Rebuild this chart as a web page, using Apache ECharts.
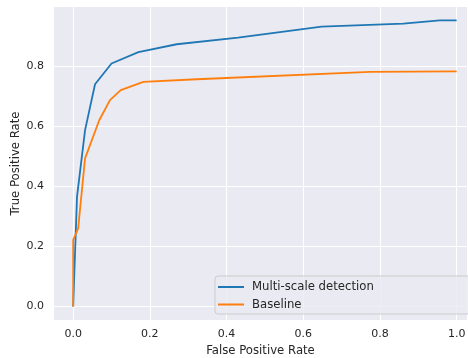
<!DOCTYPE html>
<html>
<head>
<meta charset="utf-8">
<script src="https://cdn.jsdelivr.net/npm/echarts@6/dist/echarts.min.js"></script>
<style>html,body{margin:0;padding:0;background:#fff;}#c{width:468px;height:358px;}</style>
</head>
<body>
<div id="c"></div>
<script>
const seriesNames = ['Multi-scale detection', 'Baseline'];
const fprMulti = [0, 0.01, 0.031, 0.057, 0.1, 0.17, 0.27, 0.43, 0.648, 0.861, 0.956, 1.0];
const tprMulti = [0, 0.365, 0.587, 0.74, 0.809, 0.847, 0.873, 0.895, 0.932, 0.9415, 0.9525, 0.9525];
const fprBase = [0, 0, 0.013, 0.031, 0.068, 0.096, 0.124, 0.183, 0.322, 0.774, 1.0];
const tprBase = [0, 0.222, 0.26, 0.493, 0.62, 0.687, 0.72, 0.7475, 0.7565, 0.781, 0.783];
const xTickValues = [0, 0.2, 0.4, 0.6, 0.8, 1.0];
const yTickValues = [0, 0.2, 0.4, 0.6, 0.8];

const pairs = (xs, ys) => xs.map((x, i) => [x, ys[i]]);
const font = 'DejaVu Sans';
const txt = '#262626';

const chart = echarts.init(document.getElementById('c'), null, {renderer: 'canvas'});
chart.setOption({
  animation: false,
  backgroundColor: '#ffffff',
  textStyle: {fontFamily: font},
  grid: {left: 54, right: 1, top: 7, bottom: 38, show: true, backgroundColor: '#EAEAF2', borderWidth: 0, containLabel: false, outerBoundsMode: 'none'},
  xAxis: {
    type: 'value', min: -0.05, max: 1.027,
    axisLine: {show: false},
    axisTick: {show: false, customValues: xTickValues},
    axisLabel: {customValues: xTickValues, formatter: v => v.toFixed(1), color: txt, fontSize: 11, fontFamily: font, margin: 9},
    splitLine: {show: true, lineStyle: {color: '#ffffff', width: 1.1}},
    name: 'False Positive Rate', nameLocation: 'middle', nameGap: 24,
    nameTextStyle: {color: txt, fontSize: 11.7, fontFamily: font}
  },
  yAxis: {
    type: 'value', min: -0.045, max: 0.997,
    axisLine: {show: false},
    axisTick: {show: false, customValues: yTickValues},
    axisLabel: {customValues: yTickValues, formatter: v => v.toFixed(1), color: txt, fontSize: 11, fontFamily: font, margin: 10},
    splitLine: {show: true, lineStyle: {color: '#ffffff', width: 1.1}},
    name: 'True Positive Rate', nameLocation: 'middle', nameGap: 32, nameMoveOverlap: false,
    nameTextStyle: {color: txt, fontSize: 11.7, fontFamily: font}
  },
  graphic: [{
    type: 'rect', z: 3, silent: true,
    shape: {x: 215, y: 276, width: 270, height: 38, r: 3},
    style: {fill: 'rgba(234,234,242,0.8)', stroke: '#cccccc', lineWidth: 1}
  }],
  legend: {
    orient: 'vertical', left: 218, top: 281, padding: 0, itemGap: 5.5,
    itemWidth: 26, itemHeight: 2, icon: 'rect',
    z: 5,
    textStyle: {color: txt, fontSize: 11.7, fontFamily: font, padding: [0, 0, 0, 3]},
    data: seriesNames
  },
  series: [
    {name: seriesNames[0], type: 'line', data: pairs(fprMulti, tprMulti), symbol: 'none', color: '#1f77b4', lineStyle: {width: 1.8}, z: 2},
    {name: seriesNames[1], type: 'line', data: pairs(fprBase, tprBase), symbol: 'none', color: '#ff7f0e', lineStyle: {width: 1.8}, z: 2}
  ]
});
</script>
</body>
</html>
